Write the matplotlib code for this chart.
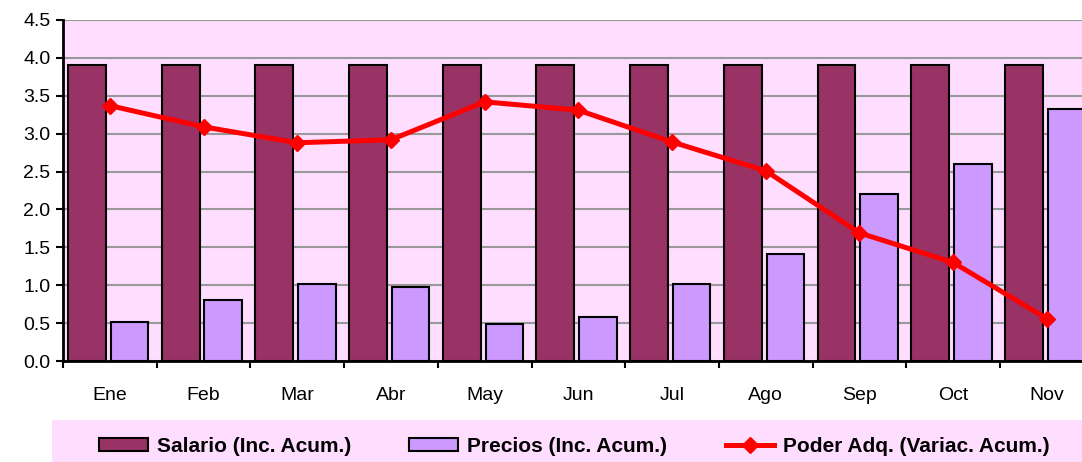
import matplotlib.pyplot as plt
import numpy as np
from matplotlib.patches import Rectangle

plt.rcParams['font.family'] = ['Liberation Sans', 'DejaVu Sans']

months = ['Ene', 'Feb', 'Mar', 'Abr', 'May', 'Jun', 'Jul', 'Ago', 'Sep', 'Oct', 'Nov']
salario = [3.9, 3.9, 3.9, 3.9, 3.9, 3.9, 3.9, 3.9, 3.9, 3.9, 3.9]
precios = [0.52, 0.80, 1.02, 0.98, 0.49, 0.58, 1.01, 1.41, 2.20, 2.60, 3.33]
poder = [3.37, 3.09, 2.88, 2.92, 3.42, 3.31, 2.89, 2.51, 1.69, 1.30, 0.56]

pink = '#FFDDFF'
x = np.arange(len(months))

fig = plt.figure(figsize=(10.82, 4.62), dpi=100)
# plot area runs past the right edge of the picture, as in the original
ax = fig.add_axes([63 / 1082, 1 - 361 / 462, 11 * 93.7 / 1082, 341 / 462])
ax.set_facecolor(pink)

b1 = ax.bar(x - 0.245, salario, width=0.405, color='#993366', edgecolor='black', linewidth=1.5,
            label='Salario (Inc. Acum.)', zorder=3)
b2 = ax.bar(x + 0.21, precios, width=0.40, color='#CC99FF', edgecolor='black', linewidth=1.5,
            label='Precios (Inc. Acum.)', zorder=3)
l1, = ax.plot(x, poder, color='red', linewidth=3.6, marker='D', markersize=8,
              label='Poder Adq. (Variac. Acum.)', zorder=4)

ax.set_xlim(-0.5, 10.5)
ax.set_ylim(0, 4.5)
ax.set_yticks(np.arange(0, 4.6, 0.5))
ax.set_yticklabels([f'{v:.1f}' for v in np.arange(0, 4.6, 0.5)])
ax.set_xticks(x)
ax.set_xticklabels(months)
ax.set_xticks(np.arange(-0.5, 10.6, 1), minor=True)
ax.tick_params(axis='x', which='major', length=0, pad=19, labelsize=14)
ax.tick_params(axis='x', which='minor', length=5, width=1.5)
ax.tick_params(axis='y', length=5, width=1.5, labelsize=14, pad=4)
ax.yaxis.grid(True, color='#999999', linewidth=1.5, zorder=0)
ax.set_axisbelow(True)

for s in ['top', 'right']:
    ax.spines[s].set_visible(False)
for s in ['left', 'bottom']:
    ax.spines[s].set_linewidth(2)
    ax.spines[s].set_zorder(5)

# legend band at the bottom
fig.patches.append(Rectangle((52 / 1082, 0), 1, 42 / 462, transform=fig.transFigure,
                             facecolor=pink, edgecolor='none', zorder=0))
fig.legend(handles=[b1, b2, l1], loc='center left', bbox_to_anchor=(80 / 1082, 16 / 462),
           ncol=3, frameon=False, prop={'weight': 'bold', 'size': 15},
           handlelength=2.35, handleheight=0.58, columnspacing=2.8, handletextpad=0.43)

plt.savefig('out.png', dpi=100)
